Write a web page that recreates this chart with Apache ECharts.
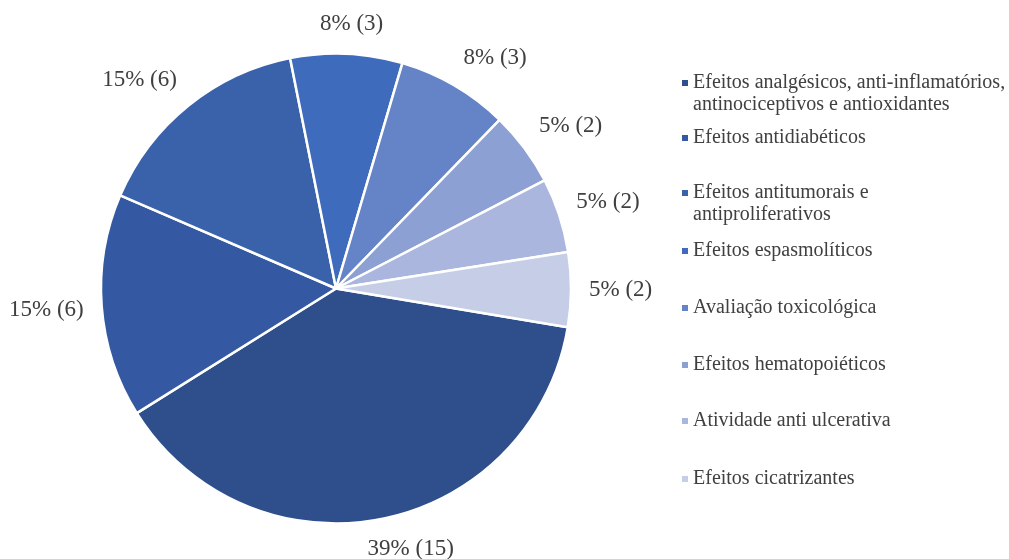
<!DOCTYPE html>
<html>
<head>
<meta charset="utf-8">
<script src="https://cdn.jsdelivr.net/npm/echarts@6/dist/echarts.min.js"></script>
<style>
html,body{margin:0;padding:0;background:#fff;}
#chart{width:1009px;height:559px;}
</style>
</head>
<body>
<div id="chart"></div>
<script>
// Data
var categories = [
  'Efeitos analgésicos, anti-inflamatórios,\nantinociceptivos e antioxidantes',
  'Efeitos antidiabéticos',
  'Efeitos antitumorais e\nantiproliferativos',
  'Efeitos espasmolíticos',
  'Avaliação toxicológica',
  'Efeitos hematopoiéticos',
  'Atividade anti ulcerativa',
  'Efeitos cicatrizantes'
];
var counts = [15, 6, 6, 3, 3, 2, 2, 2];
var colors = ['#2E4F8C', '#3459A2', '#3A62AB', '#3F6BBD', '#6583C7', '#8DA0D4', '#AAB6DE', '#C6CEE7'];
var legendTops = [73, 128, 183, 241, 298, 355, 411, 469];

var textColor = '#404040';
var serif = '"Liberation Serif", "Times New Roman", serif';
var LABEL_SIZE = 23;
var LEGEND_SIZE = 20;

var chart = echarts.init(document.getElementById('chart'), null, { renderer: 'canvas' });

var legends = categories.map(function (name, i) {
  var rich = {
    sq: { width: 6, height: 6, backgroundColor: colors[i], verticalAlign: 'middle' },
    gap: { width: 5 },
    pad: { width: 11 },
    t: { fontFamily: serif, fontSize: LEGEND_SIZE, color: textColor, lineHeight: 22 }
  };
  return {
    show: true,
    left: 681,
    top: legendTops[i],
    orient: 'vertical',
    data: [name],
    icon: 'rect',
    itemWidth: 0,
    itemHeight: 0,
    itemGap: 0,
    selectedMode: false,
    padding: 0,
    formatter: function (n) {
      var lines = n.split('\n');
      var s = '{sq|}{gap|}{t|' + lines[0] + '}';
      for (var k = 1; k < lines.length; k++) {
        s += '\n{pad|}{t|' + lines[k] + '}';
      }
      return s;
    },
    textStyle: { rich: rich, fontFamily: serif, fontSize: LEGEND_SIZE, color: textColor, padding: [0, 0, 0, -5] }
  };
});

var GAP = 18;
function clamp1(v) { return Math.max(-1, Math.min(1, v)); }

chart.setOption({
  backgroundColor: '#ffffff',
  animation: false,
  color: colors,
  legend: legends,
  series: [{
    type: 'pie',
    center: [336, 288.5],
    radius: 235,
    startAngle: -9.5,
    clockwise: true,
    percentPrecision: 0,
    avoidLabelOverlap: false,
    itemStyle: { borderColor: '#ffffff', borderWidth: 2.5 },
    label: {
      show: true,
      position: 'outside',
      fontFamily: serif,
      fontSize: LABEL_SIZE,
      color: textColor,
      formatter: function (p) {
        return Math.round(p.percent) + '% (' + p.value + ')';
      }
    },
    labelLine: { show: true, length: 10, length2: 0, lineStyle: { opacity: 0, width: 0 } },
    labelLayout: function (params) {
      var pts = params.labelLinePoints;
      if (!pts || pts.length < 2) return {};
      var dx = pts[1][0] - pts[0][0], dy = pts[1][1] - pts[0][1];
      var len = Math.sqrt(dx * dx + dy * dy) || 1;
      dx /= len; dy /= len;
      var w = params.labelRect.width / 2, h = LABEL_SIZE * 0.52;
      return {
        x: pts[0][0] + dx * GAP + w * clamp1(dx * 3),
        y: pts[0][1] + dy * GAP + h * clamp1(dy * 2),
        align: 'center',
        verticalAlign: 'middle'
      };
    },
    emphasis: { disabled: true },
    data: categories.map(function (c, i) {
      return { name: c, value: counts[i] };
    })
  }]
});
</script>
</body>
</html>
